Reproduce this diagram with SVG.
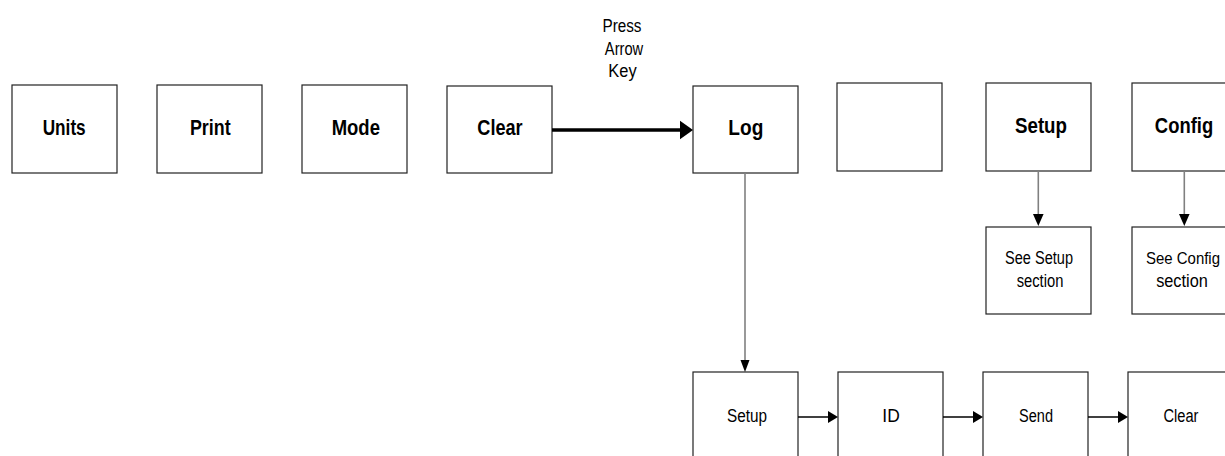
<svg xmlns="http://www.w3.org/2000/svg" width="1225" height="456" viewBox="0 0 1225 456">
<style>
.box{fill:#fff;stroke:#222;stroke-width:1.2}
.big{font-family:"Liberation Sans",Arial,sans-serif;font-weight:bold;font-size:22.5px;text-anchor:middle;fill:#000}
.sm{font-family:"Liberation Sans",Arial,sans-serif;font-size:18px;text-anchor:middle;fill:#000}
.ln{stroke:#808080;stroke-width:1.6;fill:none}
.ln2{stroke:#000;stroke-width:1.5;fill:none}
.ah{fill:#000}
</style>
<rect width="1225" height="456" fill="#fff"/>
<g id="units"><rect class="box" x="12" y="85" width="105" height="88"/><text class="big" x="64.2" y="135" textLength="43" lengthAdjust="spacingAndGlyphs">Units</text></g>
<g id="print"><rect class="box" x="157" y="85" width="105" height="88"/><text class="big" x="210.3" y="135" textLength="40.7" lengthAdjust="spacingAndGlyphs">Print</text></g>
<g id="mode"><rect class="box" x="302" y="85" width="105" height="88"/><text class="big" x="355.8" y="135" textLength="48.3" lengthAdjust="spacingAndGlyphs">Mode</text></g>
<g id="clear"><rect class="box" x="447" y="86" width="105" height="87"/><text class="big" x="500" y="135" textLength="45.3" lengthAdjust="spacingAndGlyphs">Clear</text></g>
<g id="log"><rect class="box" x="693" y="86" width="105" height="87"/><text class="big" x="745.8" y="135" textLength="35" lengthAdjust="spacingAndGlyphs">Log</text></g>
<g id="blank"><rect class="box" x="837" y="83" width="105" height="88"/></g>
<g id="setup"><rect class="box" x="986" y="83" width="105" height="88"/><text class="big" x="1041" y="133" textLength="52" lengthAdjust="spacingAndGlyphs">Setup</text></g>
<g id="config"><rect class="box" x="1132" y="83" width="105" height="88"/><text class="big" x="1184" y="133" textLength="58.3" lengthAdjust="spacingAndGlyphs">Config</text></g>
<g id="see-setup"><rect class="box" x="986" y="227" width="105" height="87"/><text class="sm" x="1039" y="264" textLength="68" lengthAdjust="spacingAndGlyphs">See Setup</text><text class="sm" x="1040" y="287" textLength="46.7" lengthAdjust="spacingAndGlyphs">section</text></g>
<g id="see-config"><rect class="box" x="1132" y="227" width="105" height="87"/><text class="sm" x="1183" y="264" style="font-size:16.4px" textLength="74" lengthAdjust="spacingAndGlyphs">See Config</text><text class="sm" x="1182" y="287" textLength="51.7" lengthAdjust="spacingAndGlyphs">section</text></g>
<g id="log-setup"><rect class="box" x="693" y="372" width="105" height="90"/><text class="sm" x="747" y="422" textLength="40" lengthAdjust="spacingAndGlyphs">Setup</text></g>
<g id="log-id"><rect class="box" x="838" y="372" width="105" height="90"/><text class="sm" x="891" y="422" textLength="17.4" lengthAdjust="spacingAndGlyphs">ID</text></g>
<g id="log-send"><rect class="box" x="983" y="372" width="105" height="90"/><text class="sm" x="1036" y="422" textLength="34" lengthAdjust="spacingAndGlyphs">Send</text></g>
<g id="log-clear"><rect class="box" x="1128" y="372" width="105" height="90"/><text class="sm" x="1181" y="422" textLength="35" lengthAdjust="spacingAndGlyphs">Clear</text></g>
<g id="label"><text class="sm" x="622" y="32" textLength="39" lengthAdjust="spacingAndGlyphs">Press</text><text class="sm" x="624" y="55" textLength="38.3" lengthAdjust="spacingAndGlyphs">Arrow</text><text class="sm" x="622.5" y="77" textLength="28.3" lengthAdjust="spacingAndGlyphs">Key</text></g>
<g id="connectors">
<line x1="552" y1="130" x2="682" y2="130" stroke="#000" stroke-width="3.5"/>
<polygon class="ah" points="680,120.7 693,130 680,139.3"/>
<line class="ln" x1="745" y1="173" x2="745" y2="361"/>
<polygon class="ah" points="740.5,360 749.5,360 745,372"/>
<line class="ln" x1="1038.3" y1="171" x2="1038.3" y2="215"/>
<polygon class="ah" points="1033,214 1043.6,214 1038.3,226"/>
<line class="ln" x1="1184.3" y1="171" x2="1184.3" y2="215"/>
<polygon class="ah" points="1179,214 1189.6,214 1184.3,226"/>
<line class="ln2" x1="798" y1="417" x2="829" y2="417"/>
<polygon class="ah" points="828,411 838,417 828,423"/>
<line class="ln2" x1="943" y1="417" x2="974" y2="417"/>
<polygon class="ah" points="973,411 983,417 973,423"/>
<line class="ln2" x1="1088" y1="417" x2="1119" y2="417"/>
<polygon class="ah" points="1118,411 1128,417 1118,423"/>
</g>
</svg>
